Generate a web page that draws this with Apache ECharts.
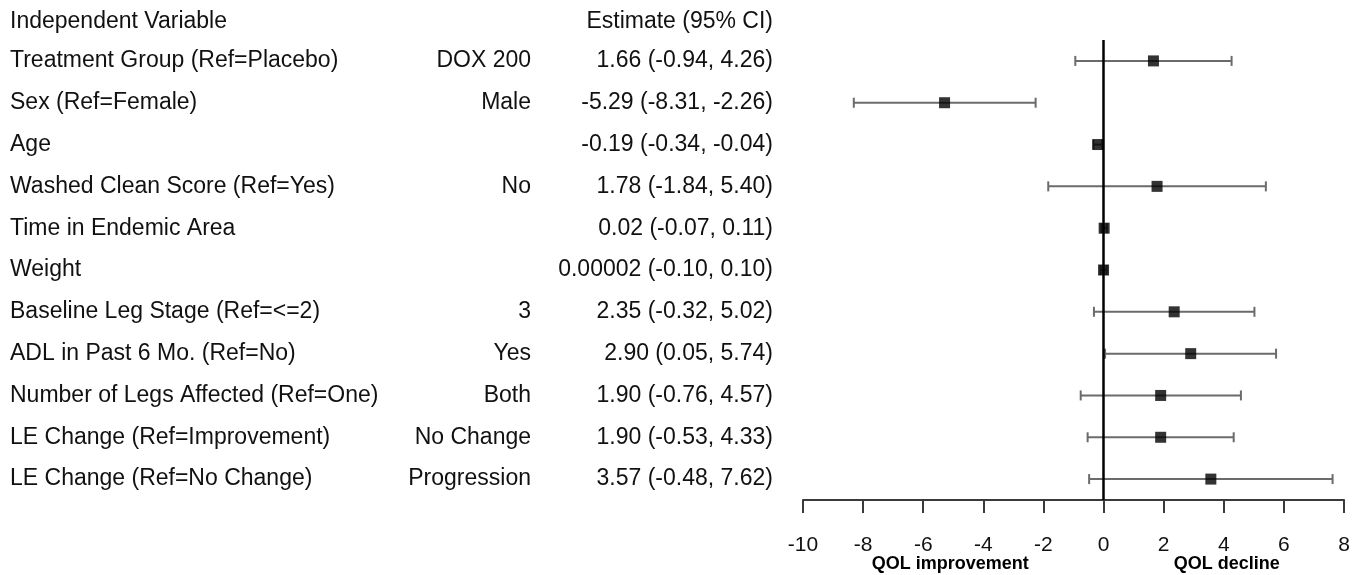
<!DOCTYPE html>
<html>
<head>
<meta charset="utf-8">
<script src="https://cdn.jsdelivr.net/npm/echarts@6/dist/echarts.min.js"></script>
<style>
html,body{margin:0;padding:0;background:#fff;}
#c{width:1359px;height:575px;}
</style>
</head>
<body>
<div id="c"></div>
<script>
const variables = ["Treatment Group (Ref=Placebo)", "Sex (Ref=Female)", "Age", "Washed Clean Score (Ref=Yes)", "Time in Endemic Area", "Weight", "Baseline Leg Stage (Ref=<=2)", "ADL in Past 6 Mo. (Ref=No)", "Number of Legs Affected (Ref=One)", "LE Change (Ref=Improvement)", "LE Change (Ref=No Change)"];
const levels = ["DOX 200", "Male", "", "No", "", "", "3", "Yes", "Both", "No Change", "Progression"];
const estimates = [1.66, -5.29, -0.19, 1.78, 0.02, 0.00002, 2.35, 2.90, 1.90, 1.90, 3.57];
const lower = [-0.94, -8.31, -0.34, -1.84, -0.07, -0.10, -0.32, 0.05, -0.76, -0.53, -0.48];
const upper = [4.26, -2.26, -0.04, 5.40, 0.11, 0.10, 5.02, 5.74, 4.57, 4.33, 7.62];
const estimateLabels = ["1.66 (-0.94, 4.26)", "-5.29 (-8.31, -2.26)", "-0.19 (-0.34, -0.04)", "1.78 (-1.84, 5.40)", "0.02 (-0.07, 0.11)", "0.00002 (-0.10, 0.10)", "2.35 (-0.32, 5.02)", "2.90 (0.05, 5.74)", "1.90 (-0.76, 4.57)", "1.90 (-0.53, 4.33)", "3.57 (-0.48, 7.62)"];
const headers = ["Independent Variable", "Estimate (95% CI)"];
const axisNotes = ["QOL improvement", "QOL decline"];
const axisNotePos = [-5.1, 4.1];
const xTicks = {min: -10, max: 8, interval: 2};

const FONT = "'Liberation Sans', Arial, sans-serif";
const FS = 23;
const TXT = '#111';

const chart = echarts.init(document.getElementById('c'), null, {renderer: 'canvas'});
const idx = variables.map((v, i) => String(i));

function yAx(formatter, align, margin) {
  return {
    type: 'category', data: idx, inverse: true, position: 'left',
    axisLine: {show: false}, axisTick: {show: false}, splitLine: {show: false},
    axisLabel: {
      formatter: formatter, align: align, margin: margin,
      fontFamily: FONT, fontSize: FS, color: TXT, interval: 0
    }
  };
}

const option = {
  animation: false,
  backgroundColor: '#fff',
  grid: {left: 803, right: 15, top: 40, bottom: 75, containLabel: false},
  xAxis: {
    type: 'value', min: xTicks.min, max: xTicks.max, interval: xTicks.interval,
    position: 'bottom',
    axisLine: {show: true, onZero: false, lineStyle: {color: '#3a3a3a', width: 2}},
    axisTick: {show: true, length: 13, lineStyle: {color: '#3a3a3a', width: 2}},
    splitLine: {show: false},
    axisLabel: {fontFamily: FONT, fontSize: 21, color: TXT, margin: 35}
  },
  yAxis: [
    yAx((v, i) => variables[+v], 'left', 793),
    yAx((v, i) => levels[+v], 'right', 272),
    yAx((v, i) => estimateLabels[+v], 'right', 30)
  ],
  graphic: [
    {type: 'text', left: 10, top: 10, style: {text: headers[0], font: FS + 'px ' + FONT, fill: TXT}},
    {type: 'text', right: 1359 - 773, top: 10, style: {text: headers[1], font: FS + 'px ' + FONT, fill: TXT}}
  ],
  series: [
    {
      type: 'custom',
      yAxisIndex: 0,
      z: 2,
      data: estimates.map((e, i) => [lower[i], upper[i], i]),
      encode: {x: [0, 1], y: 2},
      renderItem: function (params, api) {
        const p1 = api.coord([api.value(0), api.value(2)]);
        const p2 = api.coord([api.value(1), api.value(2)]);
        const h = 5;
        const st = {stroke: '#6b6b6b', lineWidth: 2};
        return {
          type: 'group',
          children: [
            {type: 'line', shape: {x1: p1[0], y1: p1[1], x2: p2[0], y2: p2[1]}, style: st},
            {type: 'line', shape: {x1: p1[0], y1: p1[1] - h, x2: p1[0], y2: p1[1] + h}, style: st},
            {type: 'line', shape: {x1: p2[0], y1: p2[1] - h, x2: p2[0], y2: p2[1] + h}, style: st}
          ]
        };
      }
    },
    {
      type: 'line',
      yAxisIndex: 0,
      data: [],
      z: 3,
      markLine: {
        silent: true, symbol: ['none', 'none'], label: {show: false},
        lineStyle: {color: '#000', width: 2.5, type: 'solid'},
        data: [{xAxis: 0}]
      }
    },
    {
      type: 'scatter',
      yAxisIndex: 0,
      z: 4,
      symbol: 'rect',
      symbolSize: 11,
      itemStyle: {color: '#000'},
      data: estimates.map((e, i) => [e, i])
    },
    {
      type: 'custom',
      yAxisIndex: 0,
      z: 5,
      silent: true,
      clip: false,
      data: axisNotePos.map(x => [x, variables.length - 1]),
      encode: {x: 0, y: 1},
      renderItem: function (params, api) {
        const p = api.coord([api.value(0), api.value(1)]);
        return {
          type: 'text',
          x: p[0], y: p[1] + 85,
          style: {
            text: axisNotes[params.dataIndex],
            font: 'bold 18px ' + FONT,
            fill: '#000', align: 'center', verticalAlign: 'middle'
          }
        };
      }
    }
  ]
};
chart.setOption(option);
</script>
</body>
</html>
